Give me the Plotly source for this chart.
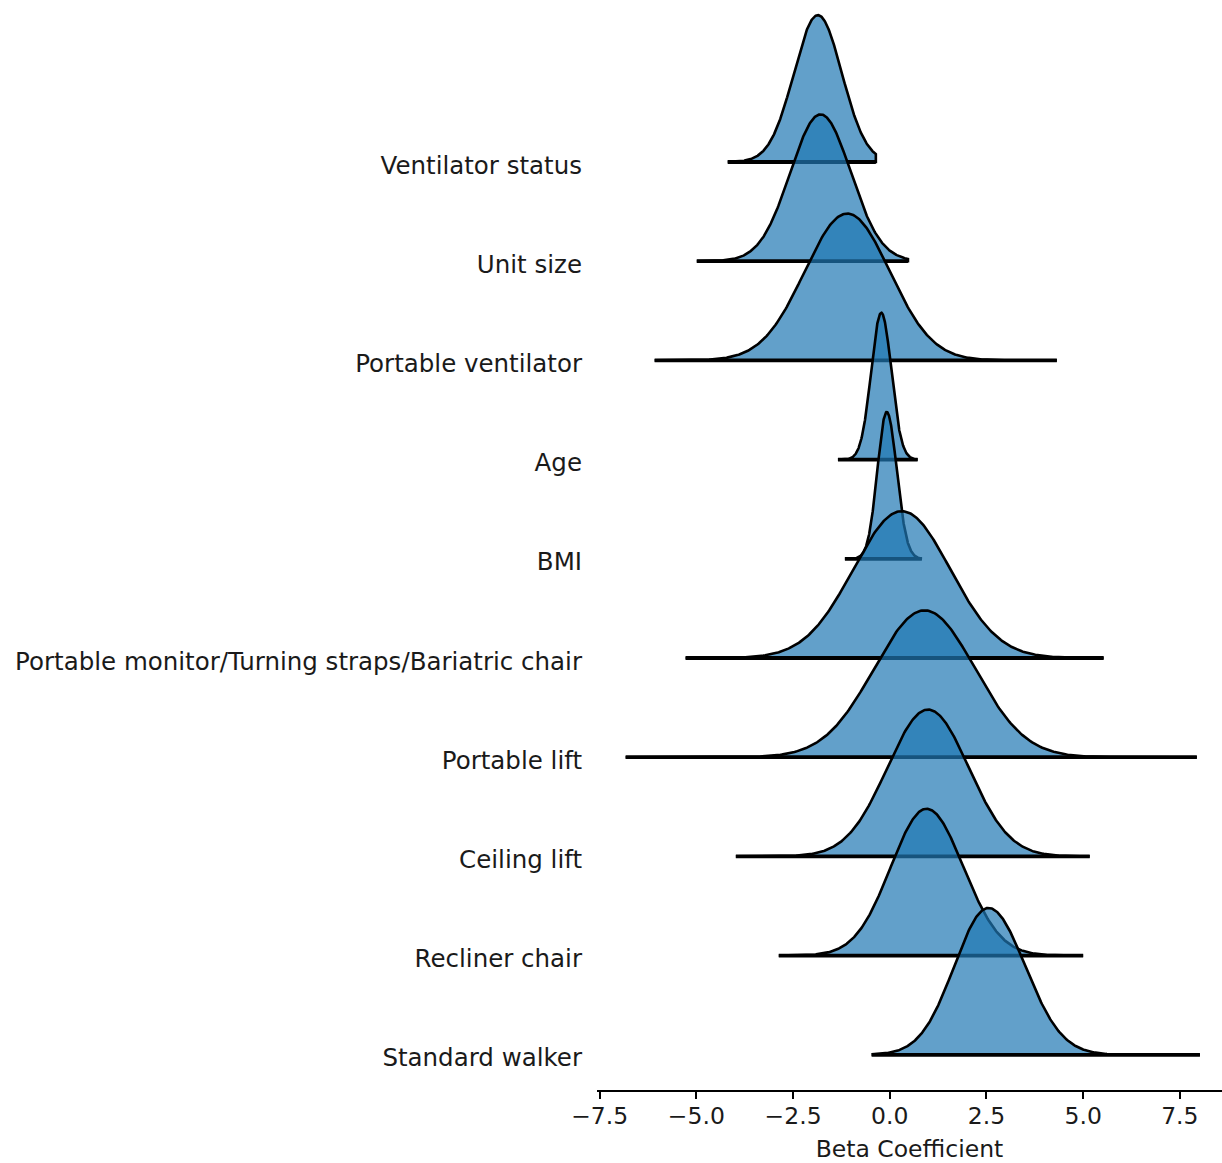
import numpy as np
import plotly.graph_objects as go

# ---- data ----
categories = ["Ventilator status", "Unit size", "Portable ventilator", "Age", "BMI",
              "Portable monitor/Turning straps/Bariatric chair", "Portable lift",
              "Ceiling lift", "Recliner chair", "Standard walker"]
peak_x = [-1.86, -1.79, -1.10, -0.22, -0.08, 0.31, 0.90, 0.99, 0.95, 2.55]
spread_left = [0.62, 0.78, 1.10, 0.26, 0.24, 1.25, 1.30, 1.05, 0.92, 0.88]
spread_right = [0.62, 0.78, 1.10, 0.26, 0.26, 1.25, 1.30, 1.05, 0.95, 0.95]
range_lo = [-4.19, -4.99, -6.08, -1.34, -1.16, -5.28, -6.83, -3.98, -2.87, -0.47]
range_hi = [-0.36, 0.47, 4.32, 0.72, 0.83, 5.53, 7.94, 5.17, 5.00, 8.02]
x_tickvals = [-7.5, -5.0, -2.5, 0.0, 2.5, 5.0, 7.5]
x_ticktext = ["\u22127.5", "\u22125.0", "\u22122.5", "0.0", "2.5", "5.0", "7.5"]
x_title = "Beta Coefficient"

FONT = "DejaVu Sans, Liberation Sans, sans-serif"
TXT = "#1a1a1a"
FILL = "rgba(31,119,180,0.7)"
RIDGE_H = 1.48  # ridge peak height in row units
FS = 24.5

fig = go.Figure()
for i, name in enumerate(categories):
    base = -i
    xs = np.linspace(range_lo[i], range_hi[i], 400)
    sd = np.where(xs < peak_x[i], spread_left[i], spread_right[i])
    dens = np.exp(-0.5 * ((xs - peak_x[i]) / sd) ** 2)
    ys = base + RIDGE_H * dens
    px = np.concatenate([xs, xs[::-1]])
    py = np.concatenate([ys, np.full_like(xs, base)])
    fig.add_trace(go.Scatter(x=px, y=py, mode="lines", fill="toself",
                             fillcolor=FILL, line=dict(color="black", width=2.6),
                             hoverinfo="skip", showlegend=False, name=name))
    fig.add_trace(go.Scatter(x=[range_lo[i], range_hi[i]], y=[base, base], mode="lines",
                             line=dict(color="black", width=3.8),
                             hoverinfo="skip", showlegend=False))

fig.update_layout(
    width=1222, height=1163,
    margin=dict(l=597, r=0, t=10, b=73),
    paper_bgcolor="white", plot_bgcolor="white",
    font=dict(family=FONT, size=FS, color=TXT),
    xaxis=dict(range=[-7.57, 8.59], tickvals=x_tickvals, ticktext=x_ticktext,
               showline=True, linecolor="black", linewidth=1.6,
               ticks="outside", ticklen=7, tickwidth=1.6, tickcolor="black",
               showgrid=False, zeroline=False, ticklabelstandoff=-3,
               tickfont=dict(family=FONT, size=FS - 1, color=TXT),
               title=dict(text=x_title, font=dict(family=FONT, size=FS - 1, color=TXT), standoff=13)),
    yaxis=dict(range=[-9.355, 1.532], tickvals=[-i for i in range(len(categories))],
               ticktext=categories, showline=False, showgrid=False, zeroline=False,
               ticks="", ticklabelstandoff=14, ticklabelshift=3,
               tickfont=dict(family=FONT, size=FS, color=TXT)),
)

fig.write_html("out.html", config={"displayModeBar": False},
               post_script="document.body.style.margin='0';")
